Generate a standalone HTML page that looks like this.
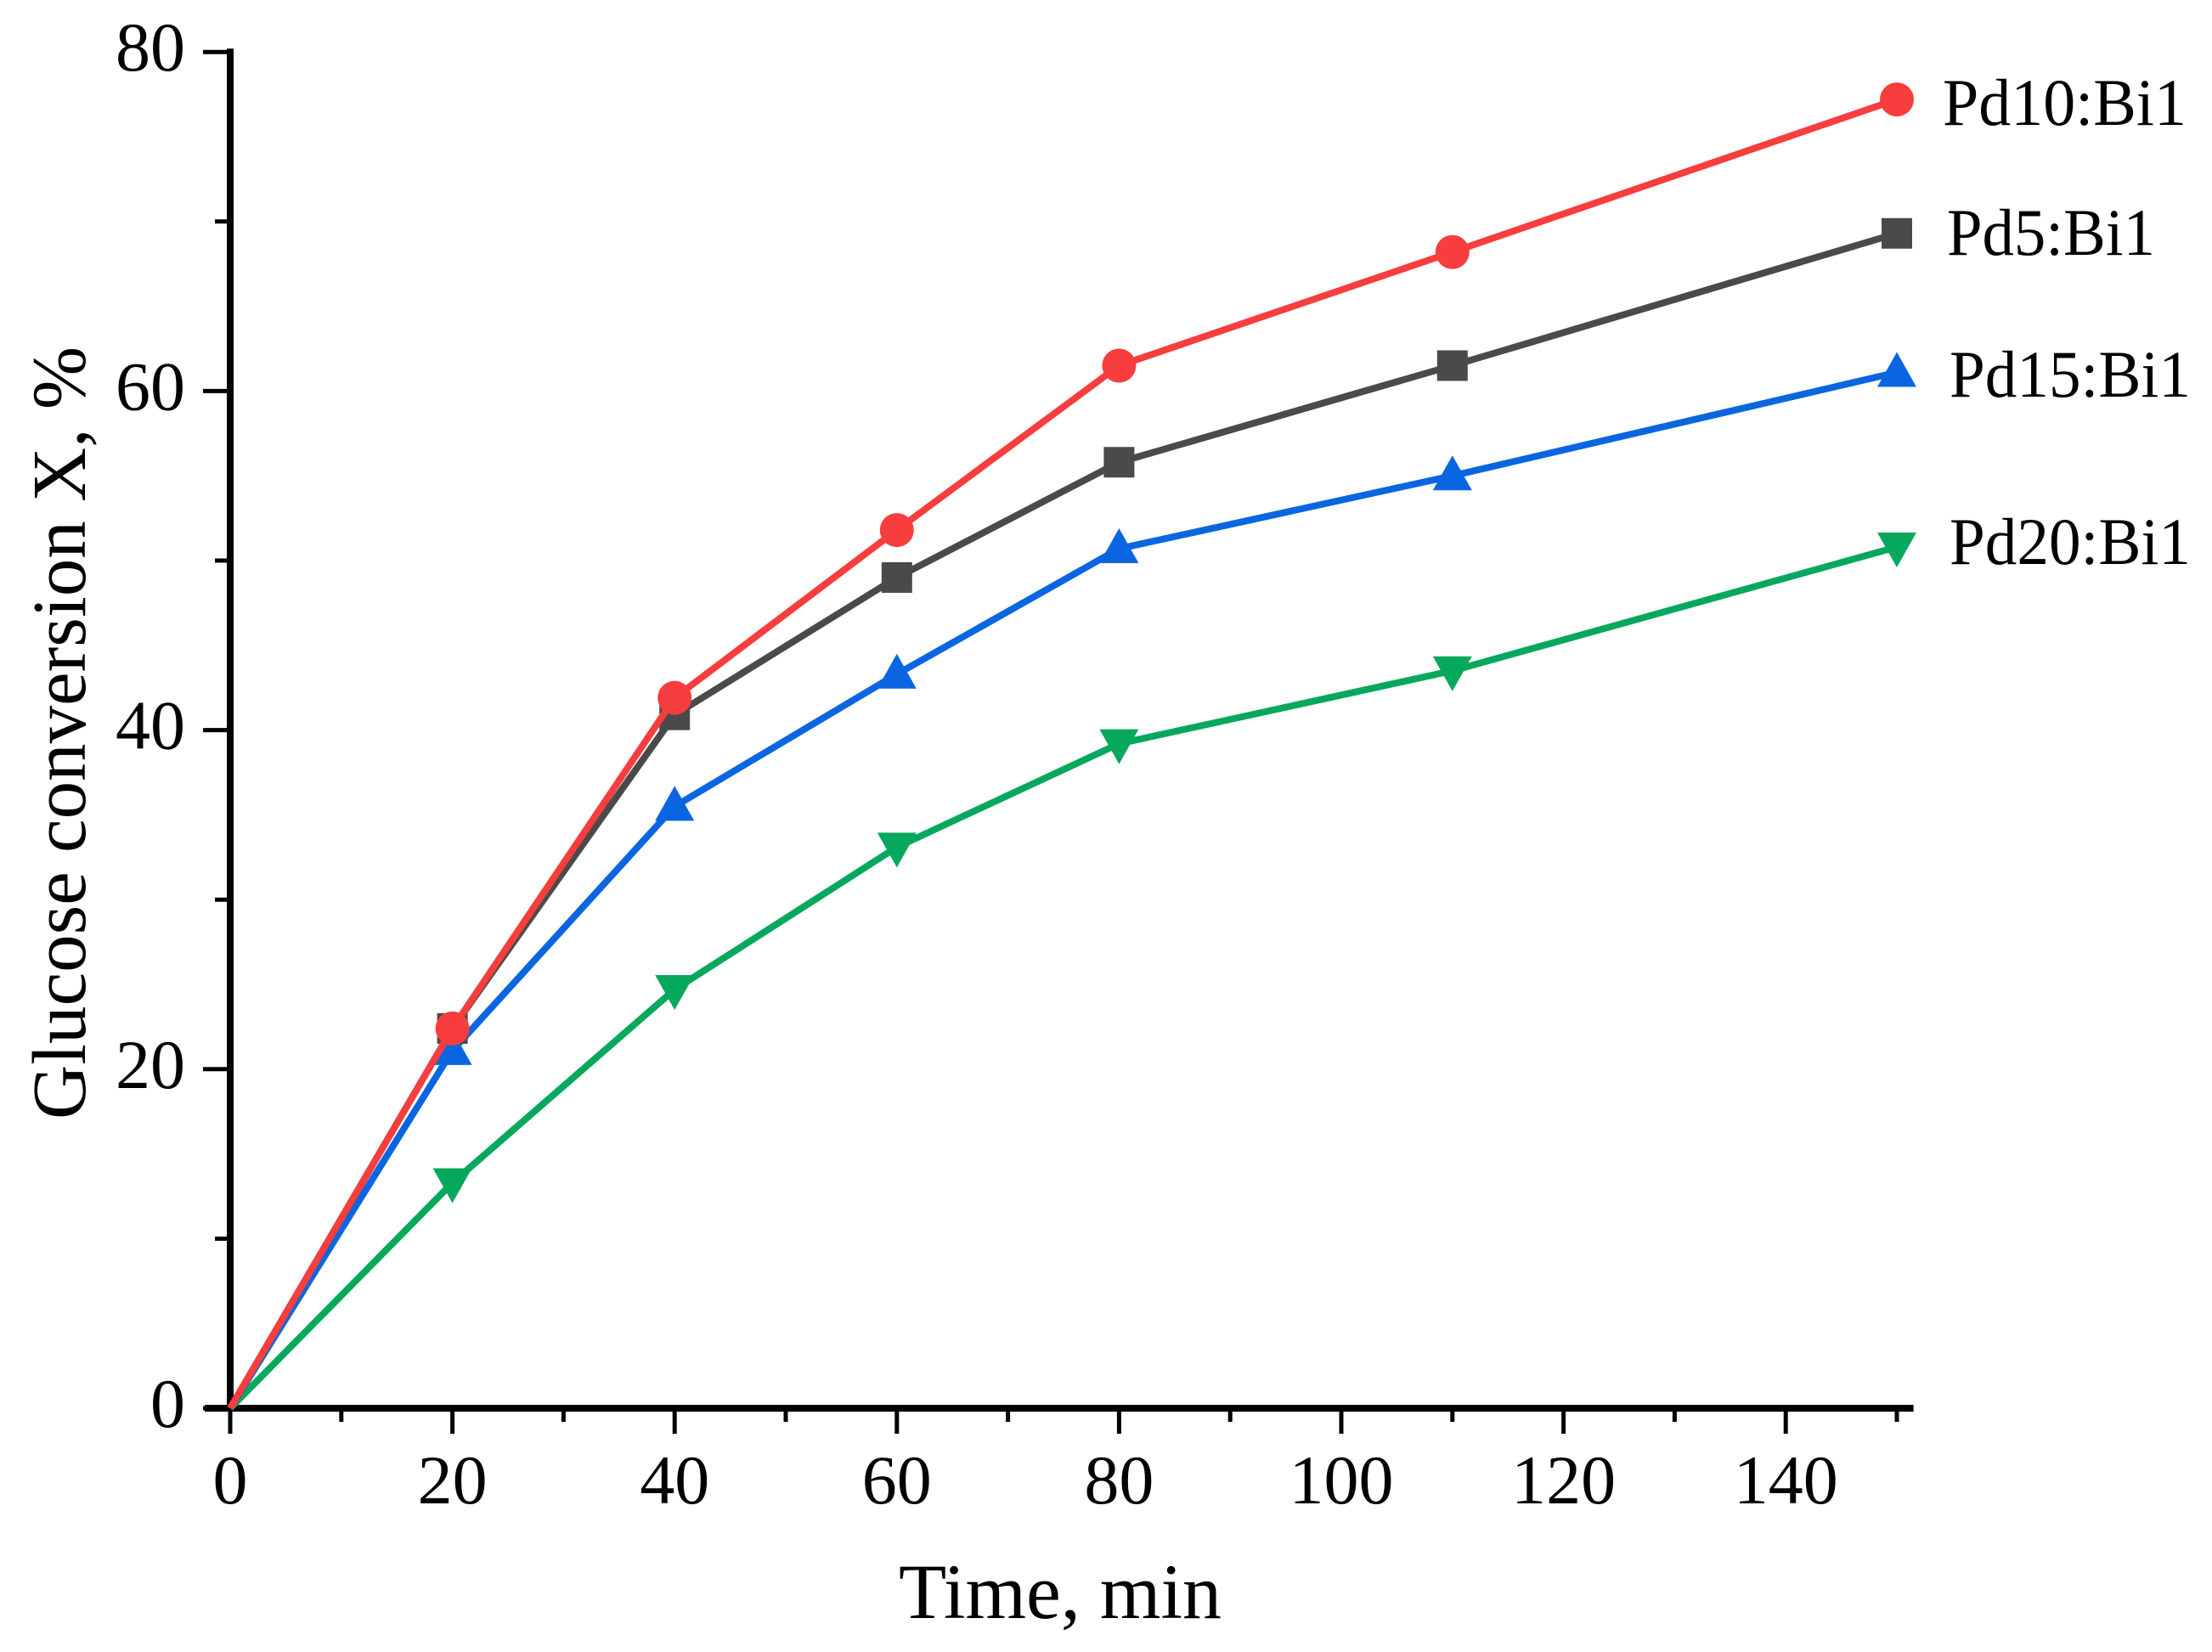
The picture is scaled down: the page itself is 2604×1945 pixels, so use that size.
<!DOCTYPE html>
<html><head><meta charset="utf-8"><style>
html,body{margin:0;padding:0;background:#fff;}
svg{display:block;font-family:"Liberation Serif",serif;}
</style></head><body>
<svg id="chart" width="2604" height="1945" viewBox="0 0 2604 1945">
<g id="axes"></g>
<g id="series"></g>
<text x="1248" y="1905" font-size="92" text-anchor="middle">Time, min</text>
<text transform="translate(100,863) rotate(-90)" font-size="90" text-anchor="middle" textLength="910" lengthAdjust="spacingAndGlyphs">Glucose conversion X, %</text>
</svg>
<script>
const times = [0, 20, 40, 60, 80, 110, 150];
const seriesNames = ["Pd10:Bi1", "Pd5:Bi1", "Pd15:Bi1", "Pd20:Bi1"];
const pd10 = [0, 22.4, 41.9, 51.8, 61.5, 68.2, 77.2];
const pd5 = [0, 22.4, 40.9, 49.0, 55.8, 61.5, 69.3];
const pd15 = [0, 21.1, 35.5, 43.3, 50.7, 55.0, 61.1];
const pd20 = [0, 13.3, 24.7, 33.1, 39.2, 43.5, 50.8];
const xTicks = [0, 20, 40, 60, 80, 100, 120, 140];
const yTicks = [0, 20, 40, 60, 80];

const NS = "http://www.w3.org/2000/svg";
const X0 = 271, XS = 13.08, Y0 = 1658, YS = 19.96;
const xs = v => X0 + v * XS;
const ys = v => Y0 - v * YS;
function mk(tag, attrs, parent) {
  const e = document.createElementNS(NS, tag);
  for (const k in attrs) e.setAttribute(k, attrs[k]);
  parent.appendChild(e);
  return e;
}
const axes = document.getElementById("axes");
const ser = document.getElementById("series");

let e = mk("line", {x1: xs(0), y1: ys(0), x2: xs(0), y2: ys(80) - 4, stroke: "#000", "stroke-width": 8}, axes);


e = mk("line", {x1: xs(0) - 30, y1: ys(0), x2: xs(151.5), y2: ys(0), stroke: "#000", "stroke-width": 8}, axes);



for (let v = 0; v <= 150; v += 10) {
  const major = v % 20 === 0;
  e = mk("line", {x1: xs(v), y1: ys(0), x2: xs(v), y2: ys(0) + (major ? 30 : 16), stroke: "#000", "stroke-width": 5}, axes);
  
  
}
xTicks.forEach(v => {
  const t = mk("text", {x: xs(v), y: 1770, "font-size": 82, "text-anchor": "middle"}, axes);
  t.textContent = v;
  
  
});
for (let v = 0; v <= 80; v += 10) {
  const major = v % 20 === 0;
  e = mk("line", {x1: xs(0), y1: ys(v), x2: xs(0) - (major ? 32 : 18), y2: ys(v), stroke: "#000", "stroke-width": 5}, axes);
  
  
}
yTicks.forEach(v => {
  const t = mk("text", {x: 218, y: ys(v) + 22, "font-size": 82, "text-anchor": "end"}, axes);
  t.textContent = v;
  
  
});

const allSeries = [pd10, pd5, pd15, pd20];
const colors = ["#f73d3d", "#4a4a4a", "#0a66e0", "#06a85e"];
const shapes = ["circle", "square", "up", "down"];
const labelY = [147, 300, 467, 664];
const labelX = [2287, 2292, 2295, 2295];
const labelW = [287, 245, 284, 284];

[3, 2, 1, 0].forEach(i => {
  const vals = allSeries[i];
  const g = mk("g", {}, ser);
  
  
  const pts = times.map((t, j) => xs(t) + "," + ys(vals[j])).join(" ");
  const pl = mk("polyline", {points: pts, fill: "none", stroke: colors[i], "stroke-width": 8, "stroke-linejoin": "round"}, g);
  
  
  times.forEach((t, j) => {
    if (j === 0) return;
    const cx = xs(t), cy = ys(vals[j]);
    let m;
    if (shapes[i] === "circle") m = mk("circle", {cx: cx, cy: cy, r: 20, fill: colors[i]}, g);
    else if (shapes[i] === "square") m = mk("rect", {x: cx - 18, y: cy - 18, width: 36, height: 36, fill: colors[i]}, g);
    else if (shapes[i] === "up") m = mk("polygon", {points: `${cx},${cy - 24} ${cx + 23},${cy + 17} ${cx - 23},${cy + 17}`, fill: colors[i]}, g);
    else m = mk("polygon", {points: `${cx},${cy + 24} ${cx + 23},${cy - 17} ${cx - 23},${cy - 17}`, fill: colors[i]}, g);
    
    
  });
  const lb = mk("text", {x: labelX[i], y: labelY[i], "font-size": 78, textLength: labelW[i], lengthAdjust: "spacingAndGlyphs"}, ser);
  lb.textContent = seriesNames[i];
  
  
});
</script>
</body></html>
